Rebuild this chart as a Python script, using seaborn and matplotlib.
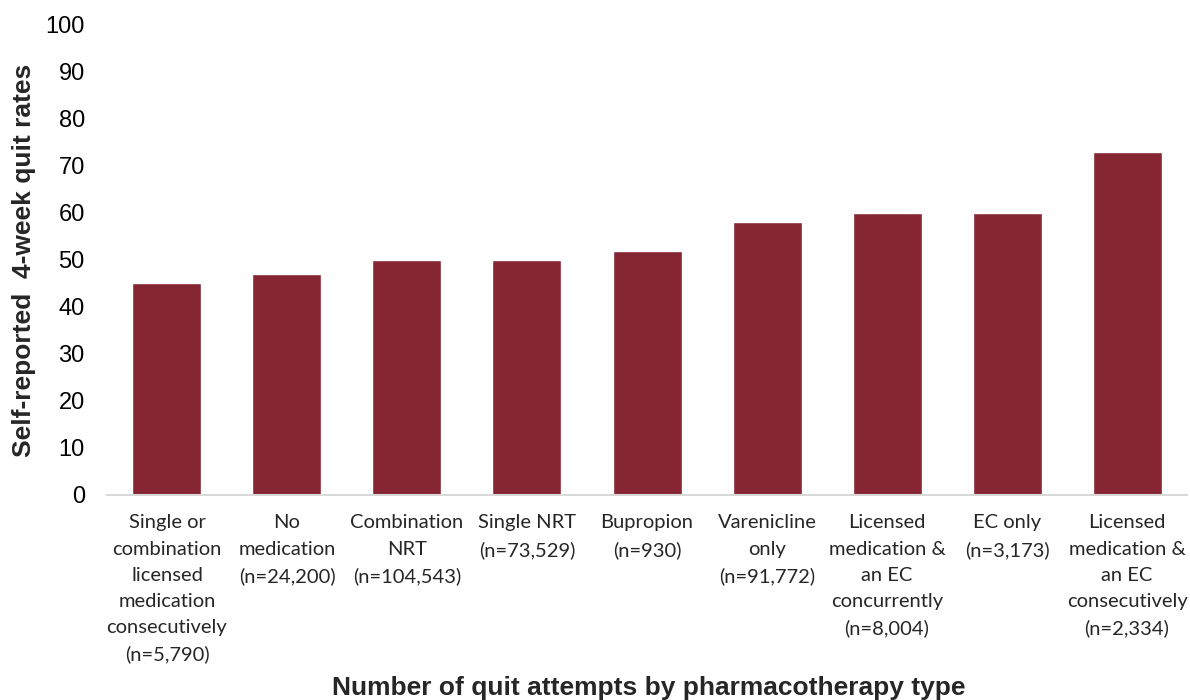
import pandas as pd
import matplotlib.pyplot as plt
import seaborn as sns

# Quit rates by pharmacotherapy type
categories = [
    "Single or\ncombination\nlicensed\nmedication\nconsecutively\n(n=5,790)",
    "No\nmedication\n(n=24,200)",
    "Combination\nNRT\n(n=104,543)",
    "Single NRT\n(n=73,529)",
    "Bupropion\n(n=930)",
    "Varenicline\nonly\n(n=91,772)",
    "Licensed\nmedication &\nan EC\nconcurrently\n(n=8,004)",
    "EC only\n(n=3,173)",
    "Licensed\nmedication &\nan EC\nconsecutively\n(n=2,334)",
]
quit_rates = [45, 47, 50, 50, 52, 58, 60, 60, 73]

df = pd.DataFrame({"category": categories, "rate": quit_rates})

sns.set_style("white")
plt.rcParams['font.family'] = ['Liberation Sans', 'DejaVu Sans']

fig = plt.figure(figsize=(11.9, 7), dpi=100)
ax = fig.add_axes([0.0899, 0.2929, 0.9076, 0.6714])

sns.barplot(data=df, x="category", y="rate", color="#862633", saturation=1,
            width=0.575, ax=ax)

ax.set_ylim(0, 100)
ax.set_xlim(-0.5, len(categories) - 0.5)
ax.set_yticks(range(0, 101, 10))
ax.tick_params(axis='y', labelsize=17, length=0, pad=16, colors='black')
ax.tick_params(axis='x', length=0, pad=14)
for lbl in ax.get_xticklabels():
    lbl.set_fontfamily(['Lato', 'DejaVu Sans'])
    lbl.set_fontsize(14.5)
    lbl.set_linespacing(1.65)
    lbl.set_verticalalignment('top')

for s in ['top', 'right', 'left']:
    ax.spines[s].set_visible(False)
ax.spines['bottom'].set_color('#d9d9d9')
ax.spines['bottom'].set_linewidth(1.5)

ax.set_ylabel("Self-reported  4-week quit rates", fontsize=19, fontweight='bold')
ax.yaxis.set_label_coords(-0.066, 0.5)
ax.set_xlabel("")
fig.text(0.545, 0.017, "Number of quit attempts by pharmacotherapy type",
         fontsize=19, fontweight='bold', ha='center', va='center')

fig.savefig("out.png", dpi=100)
